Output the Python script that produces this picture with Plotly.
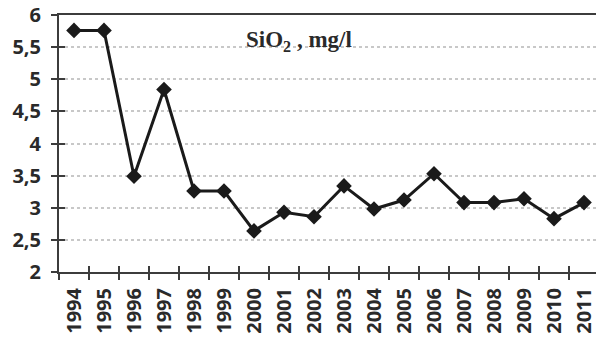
import plotly.graph_objects as go

# Yearly mean silica concentration
years = [str(y) for y in range(1994, 2012)]
sio2 = [5.76, 5.76, 3.49, 4.84, 3.26, 3.26, 2.64, 2.93, 2.86, 3.34,
        2.98, 3.12, 3.53, 3.08, 3.08, 3.14, 2.83, 3.08]

y_ticks = [2, 2.5, 3, 3.5, 4, 4.5, 5, 5.5, 6]
y_tick_text = [f"{v:g}".replace(".", ",") for v in y_ticks]

axis_col = "#3c3c3c"
tick_font = dict(family="Open Sans", size=20, color="#2a2a2a", weight="bold")

fig = go.Figure()
fig.add_trace(go.Scatter(
    x=years, y=sio2, mode="lines+markers",
    line=dict(color="#1a1a1a", width=3),
    marker=dict(symbol="diamond", size=12, color="#1a1a1a"),
    showlegend=False,
))
# transparent copy on the overlay axes so the inward tick halves are drawn
fig.add_trace(go.Scatter(
    x=years, y=sio2, xaxis="x2", yaxis="y2", mode="lines",
    line=dict(width=0), hoverinfo="skip", showlegend=False, opacity=0,
))

fig.update_layout(
    width=596, height=338,
    margin=dict(l=59, r=0, t=15, b=66),
    plot_bgcolor="white", paper_bgcolor="white",
    xaxis=dict(
        type="category", range=[-0.5, 17.4],
        showline=True, linecolor=axis_col, linewidth=2, mirror=True,
        ticks="outside", ticklen=6, tickwidth=2, tickcolor=axis_col,
        tickson="boundaries", tickangle=-90, ticklabelstandoff=6,
        tickfont=tick_font, showgrid=False,
    ),
    yaxis=dict(
        range=[2, 6], tickvals=y_ticks, ticktext=y_tick_text,
        showline=True, linecolor=axis_col, linewidth=2,
        ticks="outside", ticklen=6, tickwidth=2, tickcolor=axis_col,
        tickfont=tick_font, ticklabelstandoff=6,
        showgrid=True, gridcolor="#c8c8c8", griddash="dot", gridwidth=1.5,
        zeroline=False,
    ),
    xaxis2=dict(
        type="category", range=[-0.5, 17.4], overlaying="x",
        showticklabels=False, showgrid=False,
        ticks="inside", ticklen=6, tickwidth=2, tickcolor=axis_col,
        tickson="boundaries",
    ),
    yaxis2=dict(
        range=[2, 6], overlaying="y", tickvals=y_ticks,
        showticklabels=False, showgrid=False, zeroline=False,
        ticks="inside", ticklen=6, tickwidth=2, tickcolor=axis_col,
    ),
    annotations=[dict(
        text="<b>SiO<sub>2</sub> , mg/l</b>",
        xref="paper", yref="paper", x=0.446, y=0.9,
        xanchor="center", yanchor="middle", showarrow=False,
        font=dict(family="Liberation Serif", size=23, color="#2a2a2a"),
    )],
)

fig.write_html("out.html")
